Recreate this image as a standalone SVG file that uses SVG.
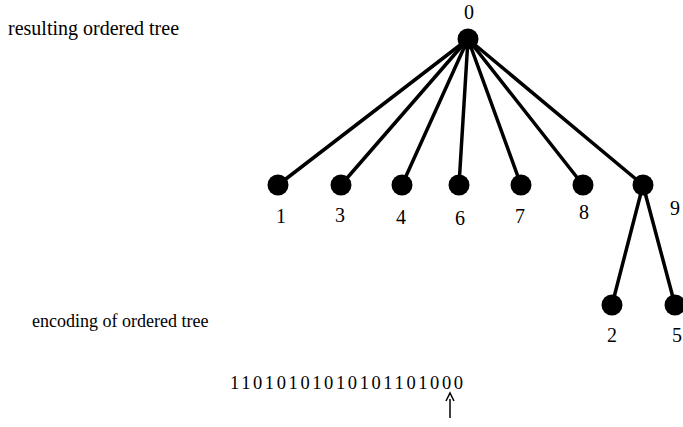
<svg xmlns="http://www.w3.org/2000/svg" width="683" height="427" viewBox="0 0 683 427">
<defs>
<style>
.t{font-family:"Liberation Serif","Times New Roman",serif;font-size:18px;fill:#000}
.l{font-family:"Liberation Serif","Times New Roman",serif;font-size:20px;fill:#000;text-anchor:middle}
.n{fill:#000}
.e{stroke:#000;stroke-width:3.5;fill:none;stroke-linecap:round}
</style>
</defs>
<rect width="683" height="427" fill="#fff"/>
<text class="t" x="8" y="35" style="font-size:20px">resulting ordered tree</text>
<text class="t" x="32" y="327">encoding of ordered tree</text>
<g id="connectors">
<line class="e" x1="468" y1="39" x2="278" y2="185"/>
<line class="e" x1="468" y1="39" x2="341" y2="185"/>
<line class="e" x1="468" y1="39" x2="402" y2="185"/>
<line class="e" x1="468" y1="39" x2="459" y2="185"/>
<line class="e" x1="468" y1="39" x2="521" y2="185"/>
<line class="e" x1="468" y1="39" x2="583" y2="185"/>
<line class="e" x1="468" y1="39" x2="643" y2="185"/>
<line class="e" x1="643" y1="185" x2="612" y2="305"/>
<line class="e" x1="643" y1="185" x2="675" y2="305"/>
</g>
<g id="node0"><circle class="n" cx="468" cy="39" r="10.5"/><text class="l" x="469" y="19">0</text></g>
<g id="node1"><circle class="n" cx="278" cy="185" r="10.5"/><text class="l" x="281" y="223">1</text></g>
<g id="node3"><circle class="n" cx="341" cy="185" r="10.5"/><text class="l" x="340" y="222">3</text></g>
<g id="node4"><circle class="n" cx="402" cy="185" r="10.5"/><text class="l" x="401" y="224">4</text></g>
<g id="node6"><circle class="n" cx="459" cy="185" r="10.5"/><text class="l" x="460" y="225">6</text></g>
<g id="node7"><circle class="n" cx="521" cy="185" r="10.5"/><text class="l" x="520" y="223">7</text></g>
<g id="node8"><circle class="n" cx="583" cy="185" r="10.5"/><text class="l" x="584" y="219">8</text></g>
<g id="node9"><circle class="n" cx="643" cy="185" r="10.5"/><text class="l" x="675" y="215">9</text></g>
<g id="node2"><circle class="n" cx="612" cy="305" r="10.5"/><text class="l" x="612" y="342">2</text></g>
<g id="node5"><circle class="n" cx="675" cy="305" r="10.5"/><text class="l" x="677" y="342">5</text></g>
<text class="t" x="230" y="389" letter-spacing="2.6" style="font-size:18.5px">11010101010101101000</text>
<g id="arrow">
<line x1="450" y1="399" x2="450" y2="418" stroke="#000" stroke-width="1.5"/>
<path d="M446,401 L450,393 L454,401" fill="none" stroke="#000" stroke-width="1.5"/>
</g>
</svg>
